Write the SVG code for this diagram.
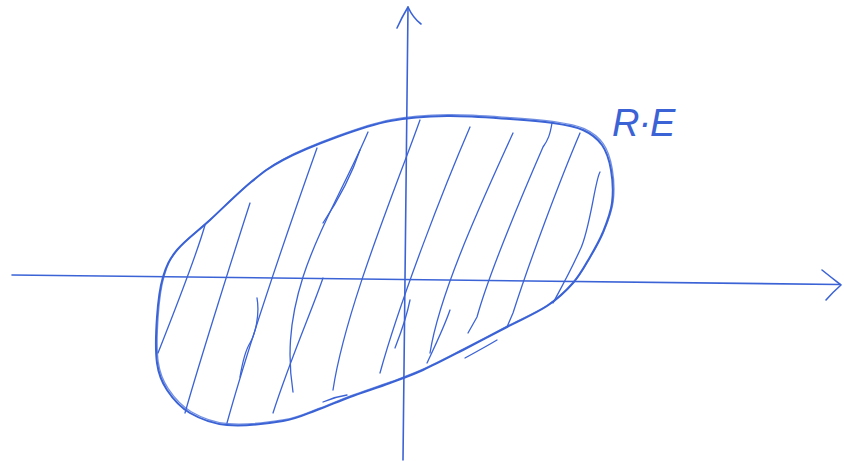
<svg xmlns="http://www.w3.org/2000/svg" width="844" height="461" viewBox="0 0 844 461">
<style>
.ink{fill:none;stroke:#3b63d6;stroke-linecap:round;stroke-linejoin:round}
.ax{stroke-width:1.6}
.ol{stroke-width:2}
.ha{stroke-width:1.3}
.lbl{font-family:"Liberation Sans",Arial,sans-serif;font-style:italic;font-size:38px;fill:#3b63d6}
</style>
<defs>
<path id="blob" d="M283,160 C297.5,152.3 319.2,143.5 337,137 C354.8,130.5 371.7,124.5 390,121 C408.3,117.5 427,116.3 447,116 C467,115.7 492.3,117.8 510,119 C527.7,120.2 540.8,121.2 553,123 C565.2,124.8 574.8,126.3 583,130 C591.2,133.7 597.3,138.3 602,145 C606.7,151.7 609.3,160.3 611,170 C612.7,179.7 613.3,192.7 612,203 C610.7,213.3 606.7,223 603,232 C599.3,241 595,248.5 590,257 C585,265.5 580.2,274.8 573,283 C565.8,291.2 558,298.7 547,306 C536,313.3 521,319.7 507,327 C493,334.3 477,342.8 463,350 C449,357.2 435.2,364.5 423,370 C410.8,375.5 402.2,378.5 390,383 C377.8,387.5 362.2,392.5 350,397 C337.8,401.5 328.2,406 317,410 C305.8,414 298,418.5 283,421 C268,423.5 242.5,426.3 227,425 C211.5,423.7 200,418.8 190,413 C180,407.2 172.5,398.3 167,390 C161.5,381.7 158.7,375.2 157,363 C155.3,350.8 156,331.3 157,317 C158,302.7 159.7,288.2 163,277 C166.3,265.8 169.2,259.5 177,250 C184.8,240.5 197.8,231.2 210,220 C222.2,208.8 237.8,193 250,183 C262.2,173 268.5,167.7 283,160 Z"/>
</defs>
<g id="axes" class="ink ax">
<path d="M12,275 L840,284.5"/>
<path d="M822,270 Q832,278 841,285 Q833,292 826,300"/>
<path d="M408,7 L403,460"/>
<path d="M397,28 Q402,17 408,7 Q413,18 421,24"/>
</g>
<g id="region">
<use href="#blob" class="ink ol"/>
<use href="#blob" class="ink ha" transform="translate(1.2,-1.3)" opacity="0.7"/>
<g class="ink ha">
<path d="M205,225 C198,250 175,310 158,353"/>
<path d="M250,203 C238,240 200,360 185,413"/>
<path d="M317,148 C295,210 250,340 227,423"/>
<path d="M257,298 C260,315 255,335 250,343 S242,365 240,377"/>
<path d="M368,132 C350,175 318,230 303,277 S288,360 293,392"/>
<path d="M360,150 C350,180 335,205 323,223"/>
<path d="M323,278 C312,310 290,360 273,413"/>
<path d="M420,120 C395,190 345,310 333,390"/>
<path d="M470,127 C445,185 400,300 380,373"/>
<path d="M410,300 C406,320 400,335 395,348"/>
<path d="M513,133 C485,195 440,290 430,353"/>
<path d="M450,310 C443,330 433,350 427,363"/>
<path d="M552,123 C550,135 548,140 543,147 C520,200 490,270 477,317 L468,333"/>
<path d="M580,133 C560,180 530,260 513,313 L507,327"/>
<path d="M600,172 C595,180 590,230 580,250 C570,272 560,290 553,303"/>
<path d="M323,402 C332,398 340,396 347,395"/>
<path d="M465,358 C476,352 487,346 497,340"/>
</g>
</g>
<g id="label">
<text class="lbl" x="612" y="136" letter-spacing="-1">R·E</text>
</g>
</svg>
